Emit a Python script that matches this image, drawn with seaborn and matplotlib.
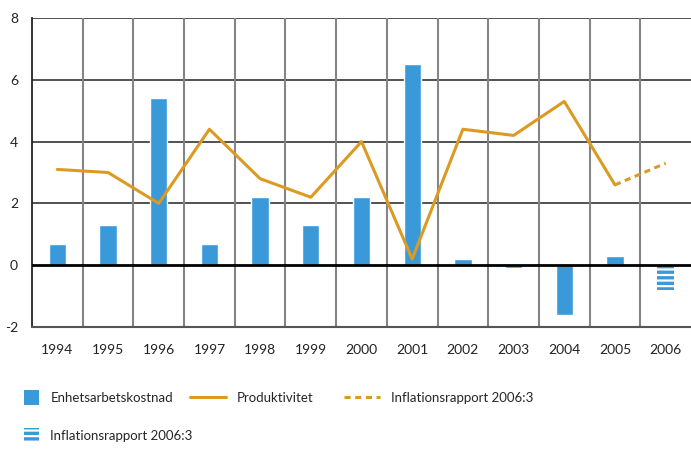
import numpy as np
import pandas as pd
import matplotlib
matplotlib.use("Agg")
import matplotlib.pyplot as plt
import matplotlib.patches as mpatches
from matplotlib.lines import Line2D
from matplotlib.legend_handler import HandlerPatch
import seaborn as sns

years = ["1994", "1995", "1996", "1997", "1998", "1999", "2000",
         "2001", "2002", "2003", "2004", "2005", "2006"]
enhets = [0.7, 1.3, 5.4, 0.7, 2.2, 1.3, 2.2, 6.5, 0.2, -0.1, -1.6, 0.3, np.nan]
enhets_prognos = [np.nan] * 12 + [-0.8]
produktivitet = [3.1, 3.0, 2.0, 4.4, 2.8, 2.2, 4.0, 0.2, 4.4, 4.2, 5.3, 2.6, np.nan]
prod_prognos = [np.nan] * 11 + [2.6, 3.3]

blue = "#3a9ad9"
orange = "#dd9a22"

sns.set_theme(style="white")
plt.rcParams["font.family"] = ["Lato", "DejaVu Sans"]
plt.rcParams["hatch.linewidth"] = 1.6

fig = plt.figure(figsize=(6.91, 4.49), dpi=100)
ax = fig.add_axes([32 / 691, 1 - 327 / 449, 1 - 32 / 691, (327 - 18) / 449])

df = pd.DataFrame({"year": years, "enhets": enhets, "prognos": enhets_prognos})
sns.barplot(data=df, x="year", y="enhets", color=blue, width=0.34,
            saturation=1, ax=ax, zorder=3)
sns.barplot(data=df, x="year", y="prognos", color=blue, width=0.34,
            saturation=1, ax=ax, zorder=3)
# forecast bar: blue with white horizontal stripes
for p in ax.containers[-1].patches:
    p.set_hatch("---")
    p.set_edgecolor("white")
    p.set_linewidth(0)

idx = np.arange(len(years))
sns.lineplot(x=idx, y=produktivitet, color=orange, lw=2.2, ax=ax, zorder=4)
sns.lineplot(x=idx, y=prod_prognos, color=orange, lw=2.2, ax=ax, zorder=4,
             linestyle=(0, (2, 1.5)))

ax.set_xlim(-0.5, len(years) - 0.5)
ax.set_ylim(-2, 8)
ax.set_yticks([-2, 0, 2, 4, 6, 8])
ax.set_yticklabels(["-2", "0", "2", "4", "6", "8"])
ax.set_xlabel("")
ax.set_ylabel("")
for y in [2, 4, 6, 8]:
    ax.axhline(y, color="#222222", lw=1.1, zorder=1)
ax.axhline(0, color="black", lw=2.0, zorder=5)
for x in np.arange(0.5, len(years) - 0.5, 1):
    ax.axvline(x, color="#858585", lw=1.5, zorder=1)
ax.tick_params(axis="both", length=0, labelsize=10, colors="#222222")
ax.tick_params(axis="x", pad=12)
ax.tick_params(axis="y", pad=10)
for s in ["top", "right"]:
    ax.spines[s].set_visible(False)
ax.spines["left"].set_color("#222222")
ax.spines["left"].set_linewidth(1.3)
ax.spines["bottom"].set_color("#555555")
ax.spines["bottom"].set_linewidth(1.5)


def square(legend, orig_handle, xdescent, ydescent, width, height, fontsize):
    s = 10.5
    return mpatches.Rectangle((-xdescent, -ydescent + (height - s) / 2), s, s)


h_bar = mpatches.Patch(facecolor=blue, edgecolor="none", label="Enhetsarbetskostnad")
h_hatch = mpatches.Patch(facecolor=blue, edgecolor="white", hatch="---",
                         linewidth=0, label="Inflationsrapport 2006:3")
h_line = Line2D([], [], color=orange, lw=2.2, label="Produktivitet")
h_dash = Line2D([], [], color=orange, lw=2.2, linestyle=(0, (2, 1.5)),
                label="Inflationsrapport 2006:3")

fig.legend(handles=[h_bar, h_hatch], loc="upper left",
           bbox_to_anchor=(24 / 691, 1 - 392 / 449),
           frameon=False, fontsize=9.5, handlelength=1.1,
           labelspacing=1.95, handletextpad=0.9, borderpad=0,
           borderaxespad=0,
           handler_map={mpatches.Patch: HandlerPatch(patch_func=square)})
fig.legend(handles=[h_line, h_dash], ncol=2, loc="upper left",
           bbox_to_anchor=(190 / 691, 1 - 392 / 449),
           frameon=False, fontsize=9.5, handlelength=2.7, columnspacing=2.3,
           handletextpad=0.85, borderpad=0, borderaxespad=0)

fig.savefig("out.png", dpi=100)
